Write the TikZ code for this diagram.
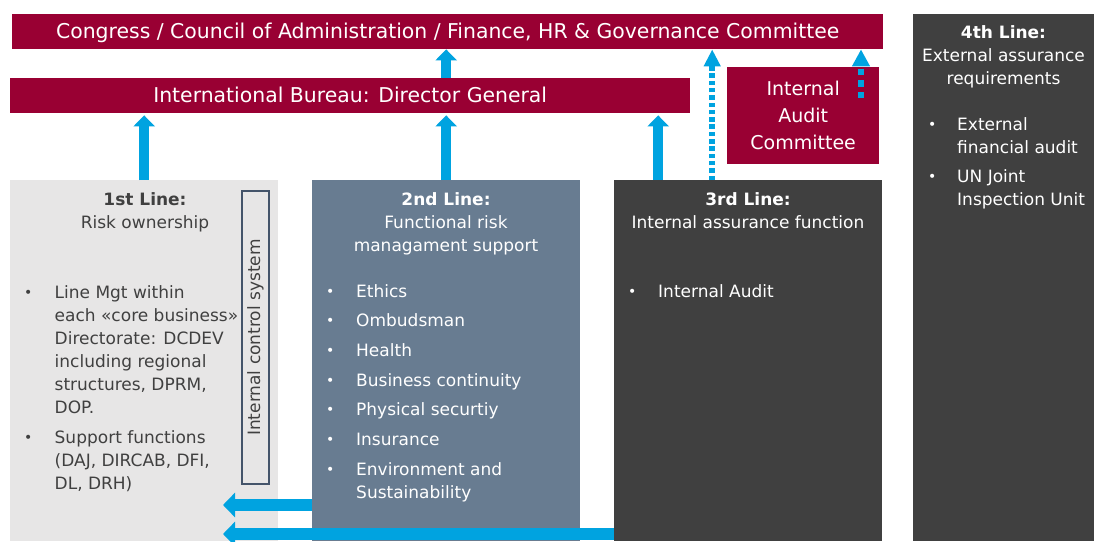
\documentclass[tikz,border=0pt]{standalone}
\usepackage{fontspec}
\setmainfont{DejaVu Sans}
\usetikzlibrary{arrows.meta}
\definecolor{upured}{RGB}{153,0,51}
\definecolor{slate}{RGB}{104,124,145}
\definecolor{darkbox}{RGB}{64,64,64}
\definecolor{lightbox}{RGB}{231,230,230}
\definecolor{arrowblue}{RGB}{0,163,224}
\definecolor{icframe}{RGB}{68,84,106}
\newcommand{\bodyfont}{\fontsize{17}{23}\selectfont}
\newcommand{\barfont}{\fontsize{20.4}{24}\selectfont}
\newcommand{\iacfont}{\fontsize{19}{27}\selectfont}
\newcommand{\bul}{\raisebox{1pt}{\fontsize{14}{14}\selectfont •}}
\begin{document}
\begin{tikzpicture}[x=1pt,y=-1pt,
  bar/.style={fill=upured, text=white, font=\barfont, inner sep=0pt, anchor=north west, text height=15pt, text depth=1pt, minimum height=35pt},
  panel/.style={anchor=north west, inner sep=0pt, minimum width=268pt, minimum height=361pt},
  hdr/.style={inner sep=0pt, anchor=base, font=\bodyfont},
  lst/.style={inner sep=0pt, anchor=base west, font=\bodyfont},
  uparrow/.style={draw=arrowblue, line width=10pt, -{Triangle[width=21pt,length=11pt]}},
  leftarrow/.style={draw=arrowblue, line width=12pt, -{Triangle[width=24pt,length=12pt]}},
  dotarrow/.style={draw=arrowblue, line width=6pt, dash pattern=on 4.5pt off 2.8pt, -{Triangle[width=16pt,length=17pt]}},
  dotarrowb/.style={draw=arrowblue, line width=6pt, dash pattern=on 6.5pt off 5pt, -{Triangle[width=17pt,length=17pt]}}
]
\useasboundingbox[fill=white] (0,0) rectangle (1094,541);

% bars
\node[bar, minimum width=871pt] (cong) at (12,14) {Congress / Council of Administration / Finance, HR \& Governance Committee};
\node[bar, minimum width=680pt] (ib) at (10,78) {International Bureau: Director General};
\node[anchor=north west, fill=upured, text=white, font=\iacfont, align=center, inner sep=0pt, minimum width=152pt, minimum height=97pt] (iac) at (727,67) {Internal\\Audit\\Committee};

% panels
\node[panel, fill=lightbox] (l1) at (10,180) {};
\node[panel, fill=slate] (l2) at (312,180) {};
\node[panel, fill=darkbox] (l3) at (614,180) {};
\node[anchor=north west, inner sep=0pt, fill=darkbox, minimum width=181pt, minimum height=527pt] (l4) at (913,14) {};

% internal control system
\node[draw=icframe, line width=1.2pt, rotate=90, minimum width=293pt, minimum height=27pt, inner sep=0pt, font=\bodyfont, text=darkbox] (ics) at (255.5,337.5) {Internal control system};

% headers
\node[hdr, text=darkbox] (h1) at (145,205) {\begin{tabular}[t]{@{}c@{}}\textbf{1st Line:}\\Risk ownership\end{tabular}};
\node[hdr, text=white] (h2) at (446,205) {\begin{tabular}[t]{@{}c@{}}\textbf{2nd Line:}\\Functional risk\\managament support\end{tabular}};
\node[hdr, text=white] (h3) at (748,205) {\begin{tabular}[t]{@{}c@{}}\textbf{3rd Line:}\\Internal assurance function\end{tabular}};
\node[hdr, text=white] (h4) at (1003.5,38) {\begin{tabular}[t]{@{}c@{}}\textbf{4th Line:}\\External assurance\\requirements\end{tabular}};

% lists
\node[lst, text=darkbox] (b1) at (24,298) {\begin{tabular}[t]{@{}p{30.5pt}@{}l@{}}
\bul & Line Mgt within\\
 & each «core business»\\
 & Directorate: DCDEV\\
 & including regional\\
 & structures, DPRM,\\
 & DOP.\\[7pt]
\bul & Support functions\\
 & (DAJ, DIRCAB, DFI,\\
 & DL, DRH)
\end{tabular}};
\node[lst, text=white] (b2) at (326,297) {\begin{tabular}[t]{@{}p{30pt}@{}l@{}}
\bul & Ethics\\[6.7pt]
\bul & Ombudsman\\[6.7pt]
\bul & Health\\[6.7pt]
\bul & Business continuity\\[6.7pt]
\bul & Physical securtiy\\[6.7pt]
\bul & Insurance\\[6.7pt]
\bul & Environment and\\
 & Sustainability
\end{tabular}};
\node[lst, text=white] (b3) at (628,297) {\begin{tabular}[t]{@{}p{30pt}@{}l@{}}
\bul & Internal Audit
\end{tabular}};
\node[lst, text=white] (b4) at (928,130) {\begin{tabular}[t]{@{}p{29pt}@{}l@{}}
\bul & External\\
 & financial audit\\[6pt]
\bul & UN Joint\\
 & Inspection Unit
\end{tabular}};

% up arrows
\coordinate (a3) at ([xshift=-90pt]l3.north);
\coordinate (d3) at ([xshift=-36pt]l3.north);
\coordinate (iacsrc) at (861,98);
\draw[uparrow, shorten >=2pt] (l1.north) -- (l1.north |- ib.south);
\draw[uparrow, shorten >=2pt] (l2.north) -- (l2.north |- ib.south);
\draw[uparrow, shorten >=2pt] (a3) -- (a3 |- ib.south);
\draw[uparrow] (ib.north -| l2.north) -- (cong.south -| l2.north);
\draw[dotarrow] (d3) -- (d3 |- cong.south);
\draw[dotarrowb] (iacsrc) -- (iacsrc |- cong.south);

% left arrows
\coordinate (t1) at (223,505);
\coordinate (t2) at (223,534);
\draw[leftarrow] (l2.west |- t1) -- (t1);
\draw[leftarrow] (l3.west |- t2) -- (t2);
\end{tikzpicture}
\end{document}
